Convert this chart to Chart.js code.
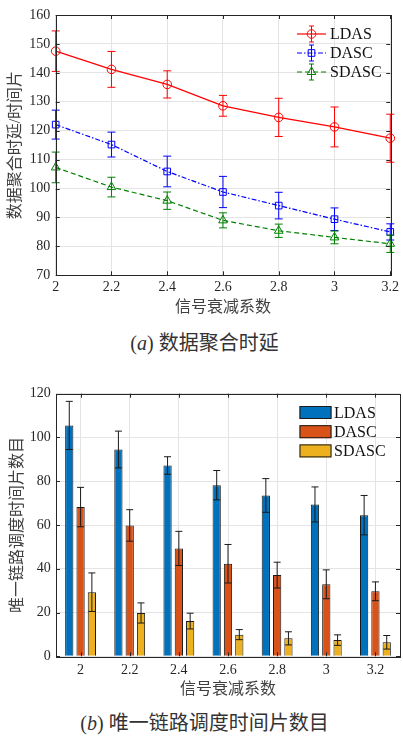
<!DOCTYPE html>
<html>
<head>
<meta charset="utf-8">
<script src="https://cdn.jsdelivr.net/npm/chart.js@4.4.1/dist/chart.umd.min.js"></script>
<style>
  html, body { margin: 0; padding: 0; background: #fff; }
  body { width: 403px; height: 736px; position: relative; overflow: hidden; font-family: "Liberation Serif", "Noto Sans CJK SC", serif; color: #333; }
  canvas { position: absolute; left: 0; }
  #delay { top: 0; }
  #slots { top: 380px; }
  .cap { position: absolute; left: 3px; width: 403px; text-align: center; font-size: 20px; line-height: 24px; white-space: nowrap; }
  .cap i { font-family: "Liberation Serif", serif; }
</style>
</head>
<body>
<canvas id="delay" width="403" height="320"></canvas>
<div class="cap" style="top:331px">(<i>a</i>) 数据聚合时延</div>
<canvas id="slots" width="403" height="320"></canvas>
<div class="cap" style="top:711px">(<i>b</i>) 唯一链路调度时间片数目</div>

<script>
// 信号衰减系数
const attenuation = [2, 2.2, 2.4, 2.6, 2.8, 3, 3.2];
const seriesNames = ["LDAS", "DASC", "SDASC"];

// (a) 数据聚合时延/时间片
const ldasDelay = [147.5, 141.2, 136.0, 128.6, 124.6, 121.3, 117.4];
const ldasDelayErr = [7.0, 6.2, 4.7, 3.6, 6.6, 6.9, 8.3];
const dascDelay = [122.1, 115.2, 105.9, 98.8, 94.1, 89.4, 85.0];
const dascDelayErr = [5.0, 4.3, 5.3, 5.4, 4.6, 3.9, 2.8];
const sdascDelay = [107.3, 100.5, 95.8, 89.0, 85.4, 83.1, 80.9];
const sdascDelayErr = [5.3, 3.4, 3.0, 2.6, 2.3, 2.2, 3.0];

// (b) 唯一链路调度时间片数目
const ldasSlots = [105.5, 94.5, 87.2, 78.2, 73.5, 69.4, 64.5];
const ldasSlotsErr = [11.0, 8.4, 4.0, 6.7, 7.7, 8.0, 9.0];
const dascSlots = [68.2, 59.8, 49.3, 42.3, 37.1, 32.9, 29.7];
const dascSlotsErr = [9.0, 7.2, 7.8, 8.8, 5.9, 6.6, 4.3];
const sdascSlots = [29.3, 19.8, 16.1, 9.9, 8.2, 7.4, 6.4];
const sdascSlotsErr = [8.8, 4.6, 3.6, 2.3, 3.0, 2.4, 3.1];

const FONT = "'Liberation Serif', 'Noto Sans CJK SC', serif";
const INK = "#262626";
const GRID = "#e4e4e4";

function marker(ctx, style, x, y, r) {
  ctx.beginPath();
  if (style === "circle") ctx.arc(x, y, r, 0, Math.PI * 2);
  else if (style === "rect") { const s = r * Math.SQRT1_2; ctx.rect(x - s, y - s, 2 * s, 2 * s); }
  else if (style === "triangle") {
    for (let k = 0; k < 3; k++) {
      const a = k * 2 * Math.PI / 3;
      const px = x + Math.sin(a) * r, py = y - Math.cos(a) * r;
      k ? ctx.lineTo(px, py) : ctx.moveTo(px, py);
    }
    ctx.closePath();
  }
  ctx.stroke();
}

function errBar(ctx, x, y1, y2, w) {
  ctx.beginPath();
  ctx.moveTo(x, y1); ctx.lineTo(x, y2);
  ctx.moveTo(x - w, y1); ctx.lineTo(x + w, y1);
  ctx.moveTo(x - w, y2); ctx.lineTo(x + w, y2);
  ctx.stroke();
}

// error bars, MATLAB style box with inward ticks, legend inside the axes
const matlabAxes = {
  id: "matlabAxes",
  afterDatasetsDraw(chart, args, opts) {
    const { ctx, scales } = chart;
    ctx.save();
    ctx.setLineDash([]);
    ctx.lineWidth = 1;
    chart.data.datasets.forEach((ds, i) => {
      if (!ds.errors) return;
      ctx.strokeStyle = ds.errorColor || ds.borderColor;
      chart.getDatasetMeta(i).data.forEach((el, j) => {
        const raw = ds.data[j];
        const v = typeof raw === "object" ? raw.y : raw;
        errBar(ctx, el.x, scales.y.getPixelForValue(v + ds.errors[j]), scales.y.getPixelForValue(v - ds.errors[j]), opts.cap);
      });
    });
    ctx.restore();
  },
  afterDraw(chart, args, opts) {
    const { ctx, chartArea: a, scales } = chart;
    ctx.save();
    ctx.strokeStyle = INK;
    ctx.lineWidth = 1;
    ctx.setLineDash([]);
    ctx.strokeRect(Math.round(a.left) + 0.5, Math.round(a.top) + 0.5, Math.round(a.right - a.left), Math.round(a.bottom - a.top));
    ctx.beginPath();
    scales.y.ticks.forEach((t, i) => {
      const y = Math.round(scales.y.getPixelForTick(i)) + 0.5;
      ctx.moveTo(a.left, y); ctx.lineTo(a.left + 4, y);
      ctx.moveTo(a.right, y); ctx.lineTo(a.right - 4, y);
    });
    scales.x.ticks.forEach((t, i) => {
      const x = Math.round(scales.x.getPixelForTick(i)) + 0.5;
      ctx.moveTo(x, a.bottom); ctx.lineTo(x, a.bottom - 4);
      ctx.moveTo(x, a.top); ctx.lineTo(x, a.top + 4);
    });
    ctx.stroke();

    // legend
    const L = opts.legend;
    ctx.font = "16px " + FONT;
    ctx.textBaseline = "middle";
    ctx.textAlign = "left";
    chart.data.datasets.forEach((ds, i) => {
      const y = L.y + i * L.dy;
      if (chart.config.type === "bar") {
        ctx.fillStyle = ds.backgroundColor;
        ctx.fillRect(L.x, y - 6.5, 32, 13);
        ctx.strokeStyle = "#1a1a1a";
        ctx.strokeRect(L.x + 0.5, y - 6, 31, 12);
      } else {
        ctx.strokeStyle = ds.borderColor;
        ctx.lineWidth = 1.2;
        ctx.setLineDash(ds.borderDash || []);
        ctx.beginPath(); ctx.moveTo(L.x, y); ctx.lineTo(L.x + 29, y); ctx.stroke();
        ctx.setLineDash([]);
        ctx.lineWidth = 1;
        errBar(ctx, L.x + 14.5, y - 8, y + 8, 2.5);
        marker(ctx, ds.pointStyle, L.x + 14.5, y, ds.pointRadius);
      }
      ctx.fillStyle = "#111";
      ctx.fillText(ds.label, L.tx, y + 1);
    });
    ctx.restore();
  }
};

const tickFont = { family: FONT, size: 14 };
const titleFont = { family: FONT, size: 16 };

function lineSet(label, ys, errs, color, style, r, dash) {
  return {
    label, errors: errs, borderColor: color, borderWidth: 1.2, borderDash: dash,
    data: ys.map((y, i) => ({ x: attenuation[i], y })),
    pointStyle: style, pointRadius: r, pointBorderWidth: 1, pointBackgroundColor: "rgba(0,0,0,0)",
    pointBorderColor: color, tension: 0, fill: false, clip: false
  };
}

new Chart(document.getElementById("delay"), {
  type: "line",
  data: {
    datasets: [
      lineSet(seriesNames[0], ldasDelay, ldasDelayErr, "#ff0000", "circle", 4.3, []),
      lineSet(seriesNames[1], dascDelay, dascDelayErr, "#0000ff", "rect", 4.7, [5, 2, 1.5, 2]),
      lineSet(seriesNames[2], sdascDelay, sdascDelayErr, "#008000", "triangle", 5, [5, 3])
    ]
  },
  options: {
    responsive: false, animation: false,
    layout: { padding: { top: 15, right: 8.7, left: 0, bottom: 0 } },
    plugins: {
      legend: { display: false }, tooltip: { enabled: false },
      matlabAxes: { cap: 4, legend: { x: 297, tx: 330, y: 34, dy: 19 } }
    },
    scales: {
      x: {
        type: "linear", min: 2, max: 3.2,
        ticks: { stepSize: 0.2, autoSkip: false, maxRotation: 0, padding: 4, font: tickFont, color: INK, callback: (v) => +v.toFixed(1) },
        grid: { color: GRID, drawTicks: false }, border: { display: false },
        title: { display: true, text: "信号衰减系数", font: titleFont, color: "#404040", padding: { top: 0, bottom: 2.7 } },
        afterFit: (s) => { s.height = 44.7; }
      },
      y: {
        min: 70, max: 160,
        ticks: { stepSize: 10, padding: 5.5, font: tickFont, color: INK },
        grid: { color: GRID, drawTicks: false }, border: { display: false },
        title: { display: true, text: "数据聚合时延/时间片", font: titleFont, color: "#404040", padding: { top: 6, bottom: 0 } },
        afterFit: (s) => { s.width = 55.7; }
      }
    }
  },
  plugins: [matlabAxes]
});

function barSet(label, ys, errs, color) {
  return {
    label, data: ys, errors: errs, errorColor: "#1a1a1a",
    backgroundColor: color, borderColor: "#1a1a1a", borderWidth: 1,
    categoryPercentage: 0.69, barPercentage: 0.73
  };
}

new Chart(document.getElementById("slots"), {
  type: "bar",
  data: {
    labels: attenuation.map(String),
    datasets: [
      barSet(seriesNames[0], ldasSlots, ldasSlotsErr, "#0072bd"),
      barSet(seriesNames[1], dascSlots, dascSlotsErr, "#d95319"),
      barSet(seriesNames[2], sdascSlots, sdascSlotsErr, "#edb120")
    ]
  },
  options: {
    responsive: false, animation: false,
    layout: { padding: { top: 12.7, right: 3, left: 0, bottom: 0 } },
    plugins: {
      legend: { display: false }, tooltip: { enabled: false },
      matlabAxes: { cap: 3.5, legend: { x: 299.5, tx: 334, y: 32.5, dy: 19.2 } }
    },
    scales: {
      x: {
        ticks: { padding: 5.3, font: tickFont, color: INK, maxRotation: 0 },
        grid: { color: GRID, drawTicks: false, offset: false }, border: { display: false },
        title: { display: true, text: "信号衰减系数", font: titleFont, color: "#404040", padding: { top: 0, bottom: 0.4 } },
        afterFit: (s) => { s.height = 43.7; }
      },
      y: {
        min: 0, max: 120,
        ticks: { stepSize: 20, padding: 5.3, font: tickFont, color: INK },
        grid: { color: GRID, drawTicks: false }, border: { display: false },
        title: { display: true, text: "唯一链路调度时间片数目", font: titleFont, color: "#404040", padding: { top: 8.4, bottom: 0 } },
        afterFit: (s) => { s.width = 56; }
      }
    }
  },
  plugins: [matlabAxes]
});
</script>
</body>
</html>
